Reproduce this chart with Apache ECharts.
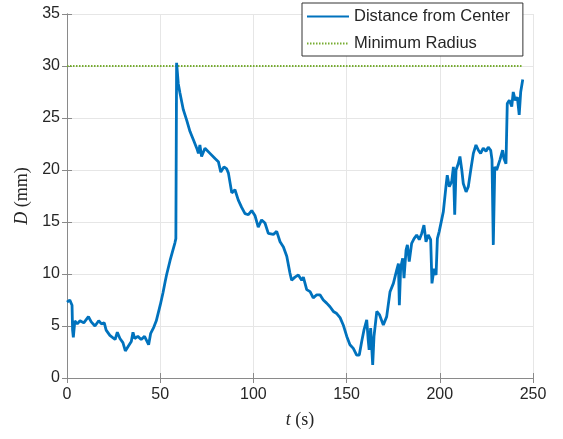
<!DOCTYPE html>
<html>
<head>
<meta charset="utf-8">
<script src="https://cdn.jsdelivr.net/npm/echarts@6/dist/echarts.min.js"></script>
<style>html,body{margin:0;padding:0;background:#fff;}#c{width:563px;height:439px;}</style>
</head>
<body>
<div id="c"></div>
<script>
var tVals = [0,1.5,2.7,3.0,3.4,4.2,5.5,7,9,11.5,13,15,17,18.5,20,21,23,25.8,27,28.4,30,31.3,32.7,34.5,35.4,36.3,38,39.8,41.6,43,43.8,44.9,46.6,47.9,50,51.5,52.6,53.4,55.3,57.9,58.4,58.8,59.7,60.6,62.4,63.3,64.2,66,67.8,69.6,70.5,71.3,72.2,74,76.7,79.4,81.2,82.5,84.2,85.7,86.6,88.4,90.1,91.9,93.7,95.5,97.3,99.1,100.9,102.6,104.4,106.2,108,110.7,112.5,114.3,116.1,117.9,119.6,120.5,122.3,124.1,125.9,126.8,128.6,130.4,132.1,134,135.7,137.5,139.3,141.1,142.9,144.7,146.5,148.2,150.1,151.8,153.6,155.4,156.8,158.1,159.3,160.8,161.6,162.1,162.9,164,164.7,166.2,167.6,169.7,171.5,173.3,175.1,176.9,177.8,178.3,179,180.1,180.8,181.9,182.6,183.6,184.9,186.2,187.6,189,190.3,191.5,192.6,193.8,195.1,195.8,196.9,198,198.7,199.7,201.9,203.3,204,205.1,206.4,207.3,208,208.7,209.9,210.8,211.8,212.6,214.1,215.3,216.6,218,219.4,220.7,221.9,223.3,224.8,226,227.3,228,228.7,229.5,230.5,232.3,233.7,234.4,235.5,236.2,237.3,238.6,239.4,240.5,241.6,242.6,243.4,244.5];
var dVals = [7.3,7.5,7.0,4.6,3.9,5.5,5.2,5.5,5.3,5.9,5.4,5.0,5.5,5.2,5.3,4.6,4.1,3.7,4.4,3.8,3.4,2.6,3.0,3.5,4.4,3.8,4.0,3.7,4.0,3.5,3.2,4.3,4.9,5.5,7.0,8.2,9.2,9.9,11.3,13.0,13.4,30.3,28.3,27.4,25.8,25.8,24.8,23.7,22.9,22.1,21.6,22.4,21.3,22.1,21.6,21.1,20.8,19.8,20.3,20.1,19.7,17.8,18.1,17.1,16.4,15.8,15.7,16.1,15.6,14.5,15.2,14.9,13.9,13.8,14.1,13.1,12.6,11.7,10.1,9.4,9.7,9.9,9.4,9.7,8.5,8.3,7.7,8.0,8.0,7.5,7.2,6.85,6.4,6.2,5.8,5.1,4.0,3.2,2.85,2.2,2.2,3.5,4.6,5.6,3.65,2.7,4.8,1.25,4.0,6.4,6.1,5.1,5.9,8.3,9.1,10.4,11.0,7.0,10.6,11.5,9.6,12.3,12.8,11.2,12.95,13.4,13.75,13.3,13.9,14.7,13.1,13.75,13.3,9.1,10.5,9.9,13.4,14.1,16.0,18.4,19.5,18.4,18.9,20.3,15.7,20,20.6,21.3,20,18.7,17.9,18.4,20,21.6,22.4,21.9,21.6,22.1,21.8,22.2,21.9,21,12.8,20.3,20,21,21.9,21.1,20.6,26.4,26.7,26.1,27.5,26.7,27.0,25.3,27.5,28.7];
var minRadiusT = [0, 244.5];
var minRadiusD = [30, 30];
var seriesNames = ['Distance from Center', 'Minimum Radius'];

var chart = echarts.init(document.getElementById('c'), null, {renderer: 'canvas'});
var axisCol = '#8a8a8a';
var gridCol = '#e6e6e6';
var txtCol = '#262626';
var tickFont = 'Liberation Sans, Arial, sans-serif';
function pairs(a, b) { return a.map(function (v, i) { return [v, b[i]]; }); }

chart.setOption({
  animation: false,
  backgroundColor: '#fff',
  grid: {left: 67, right: 30, top: 14, bottom: 61, containLabel: false},
  legend: {
    orient: 'vertical', left: 302, top: 3,
    data: seriesNames,
    itemWidth: 42, itemHeight: 14, itemGap: 10,
    padding: [5, 13, 4, 4],
    backgroundColor: '#fff', borderColor: '#333', borderWidth: 1,
    itemStyle: {opacity: 0},
    textStyle: {fontFamily: tickFont, fontSize: 16.5, color: txtCol, padding: [0, 0, 0, 0]}
  },
  xAxis: [{
    type: 'value', min: 0, max: 250, interval: 50,
    name: '{i|t} (s)', nameLocation: 'middle', nameGap: 33,
    nameTextStyle: {fontFamily: 'Liberation Serif, serif', fontSize: 18, color: txtCol,
      rich: {i: {fontFamily: 'Liberation Serif, serif', fontStyle: 'italic', fontSize: 18, color: txtCol}}},
    axisLine: {show: true, lineStyle: {color: axisCol, width: 1}},
    axisTick: {show: true, inside: true, length: 5, lineStyle: {color: axisCol}},
    axisLabel: {fontFamily: tickFont, fontSize: 16, color: txtCol, margin: 9},
    splitLine: {show: true, lineStyle: {color: gridCol, width: 1}}
  }, {
    type: 'value', position: 'top', min: 0, max: 250, interval: 50,
    axisLine: {show: true, lineStyle: {color: axisCol, width: 1}},
    axisTick: {show: true, inside: true, length: 5, lineStyle: {color: axisCol}},
    axisLabel: {show: false}, splitLine: {show: false}
  }],
  yAxis: [{
    type: 'value', min: 0, max: 35, interval: 5,
    name: '{i|D} (mm)', nameLocation: 'middle', nameGap: 36,
    nameTextStyle: {fontFamily: 'Liberation Serif, serif', fontSize: 18, color: txtCol,
      rich: {i: {fontFamily: 'Liberation Serif, serif', fontStyle: 'italic', fontSize: 18, color: txtCol}}},
    axisLine: {show: true, lineStyle: {color: axisCol, width: 1}},
    axisTick: {show: true, inside: true, length: 5, lineStyle: {color: axisCol}},
    axisLabel: {fontFamily: tickFont, fontSize: 16, color: txtCol, margin: 7},
    splitLine: {show: true, lineStyle: {color: gridCol, width: 1}}
  }, {
    type: 'value', position: 'right', min: 0, max: 35, interval: 5,
    axisLine: {show: true, lineStyle: {color: axisCol, width: 1}},
    axisTick: {show: true, inside: true, length: 5, lineStyle: {color: axisCol}},
    axisLabel: {show: false}, splitLine: {show: false}
  }],
  series: [{
    name: seriesNames[0], type: 'line', symbol: 'none',
    data: pairs(tVals, dVals),
    lineStyle: {color: '#0072BD', width: 2.8},
    itemStyle: {color: '#0072BD'}, z: 3
  }, {
    name: seriesNames[1], type: 'line', symbol: 'none',
    data: pairs(minRadiusT, minRadiusD),
    lineStyle: {color: '#77AC30', width: 1.8, type: [1.5, 1.5]},
    itemStyle: {color: '#77AC30'}, z: 2
  }]
});
</script>
</body>
</html>
